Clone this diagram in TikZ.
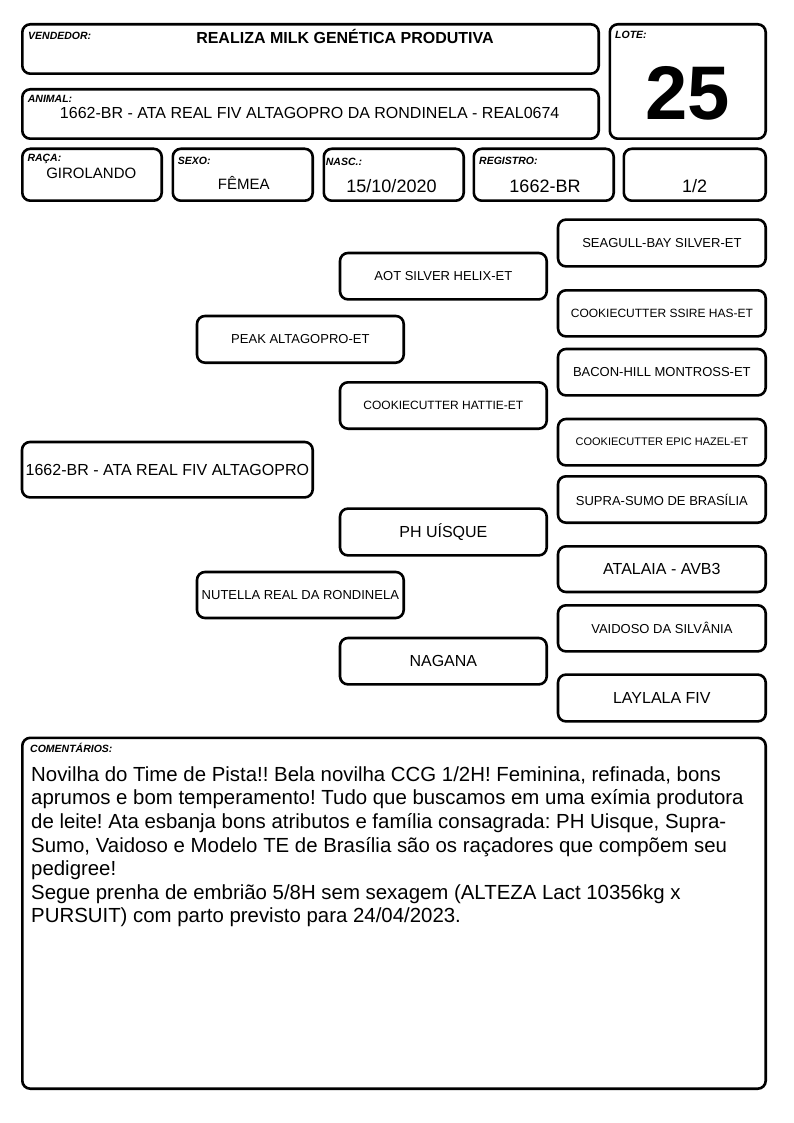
\documentclass[tikz,border=0pt]{standalone}
\usepackage{fontspec}
\setmainfont{Liberation Sans}
\frenchspacing
\newcommand\fsz[1]{\fontsize{#1}{#1}\selectfont}
\tikzset{
  x=1pt, y=-1pt,
  frame/.style={draw, line width=2.6pt, rounded corners=8pt, inner sep=0pt},
  lbl/.style={font=\bfseries\itshape\fsz{10.5}, anchor=base west, inner sep=0pt},
  val/.style={anchor=base, inner sep=0pt},
}
% name, x1, y1, x2, y2 (outer edges)
\newcommand\cardbox[5]{%
  \node[frame, minimum width={#4-#2-2.6}, minimum height={#5-#3-2.6}] (#1) at ({(#2+#4)/2},{(#3+#5)/2}) {};}
% name, x1, y1, x2, y2, size, text
\newcommand\pedbox[7]{%
  \node[frame, align=center, font=\fsz{#6}, minimum width={#4-#2-2.6}, minimum height={#5-#3-2.6}] (#1) at ({(#2+#4)/2},{(#3+#5)/2}) {#7};}
\begin{document}
\begin{tikzpicture}
\useasboundingbox (0,0) rectangle (794,1123);
% header
\cardbox{vend}{21}{23}{600}{75}
\cardbox{animal}{21}{88}{600}{140}
\cardbox{lote}{608.5}{23}{767}{140}
\cardbox{raca}{21}{147.5}{163}{202}
\cardbox{sexo}{171.5}{147.5}{314}{202}
\cardbox{nasc}{322.5}{147.5}{465}{202}
\cardbox{reg}{472.5}{147.5}{615}{202}
\cardbox{half}{622.5}{147.5}{767}{202}
\cardbox{coment}{21}{736.5}{767}{1090}

\node[lbl] (lvend) at (28,39.3) {VENDEDOR:};
\node[val, font=\bfseries\fsz{16}] (tvend) at (345,43.3) {REALIZA MILK GENÉTICA PRODUTIVA};
\node[lbl] (llote) at (615,39) {LOTE:};
\node[val, font=\bfseries\fsz{76}] (tlote) at (687.5,120) {25};
\node[lbl] (lanimal) at (27.7,102.7) {ANIMAL:};
\node[val, font=\fsz{16}] (tanimal) at (309.7,119) {1662-BR - ATA REAL FIV ALTAGOPRO DA RONDINELA - REAL0674};
\node[lbl] (lraca) at (27.3,162) {RAÇA:};
\node[val, font=\fsz{15}] (traca) at (91.3,178.3) {GIROLANDO};
\node[lbl] (lsexo) at (177.7,165) {SEXO:};
\node[val, font=\fsz{15}] (tsexo) at (243.8,189.3) {FÊMEA};
\node[lbl] (lnasc) at (325.7,165.7) {NASC.:};
\node[val, font=\fsz{18}] (tnasc) at (391.5,192.7) {15/10/2020};
\node[lbl] (lreg) at (479,165) {REGISTRO:};
\node[val, font=\fsz{18}] (treg) at (545,193) {1662-BR};
\node[val, font=\fsz{18}] (thalf) at (694.5,193) {1/2};

% pedigree
\pedbox{p0}{20.7}{440.7}{314}{498.7}{16}{1662-BR - ATA REAL FIV ALTAGOPRO}
\pedbox{p1}{195.7}{314.7}{405}{364}{13}{PEAK ALTAGOPRO-ET}
\pedbox{p2}{195.7}{570.7}{405}{619.3}{13}{NUTELLA REAL DA RONDINELA}
\pedbox{p3}{338.7}{251.7}{548}{300.7}{13}{AOT SILVER HELIX-ET}
\pedbox{p4}{338.7}{381}{548}{430}{12}{COOKIECUTTER HATTIE-ET}
\pedbox{p5}{338.7}{507.3}{548}{556.7}{16}{PH UÍSQUE}
\pedbox{p6}{338.7}{636.7}{548}{685.7}{16}{NAGANA}
\pedbox{p7}{556.7}{218.3}{767}{267.7}{13}{SEAGULL-BAY SILVER-ET}
\pedbox{p8}{556.7}{289}{767}{337.7}{12}{COOKIECUTTER SSIRE HAS-ET}
\pedbox{p9}{556.7}{347.7}{767}{396.7}{13}{BACON-HILL MONTROSS-ET}
\pedbox{p10}{556.7}{417.7}{767}{466.7}{11}{COOKIECUTTER EPIC HAZEL-ET}
\pedbox{p11}{556.7}{475}{767}{524}{13}{SUPRA-SUMO DE BRASÍLIA}
\pedbox{p12}{556.7}{545}{767}{593.3}{16}{ATALAIA - AVB3}
\pedbox{p13}{556.7}{604}{767}{652.7}{13}{VAIDOSO DA SILVÂNIA}
\pedbox{p14}{556.7}{673.3}{767}{722.7}{16}{LAYLALA FIV}

% comments
\node[lbl] (lcom) at (30,752.7) {COMENTÁRIOS:};
\node[anchor=north west, inner sep=0pt, align=left, font=\fontsize{20.4}{23.6}\selectfont] (tcom) at (31,766.4) {Novilha do Time de Pista!! Bela novilha CCG 1/2H! Feminina, refinada, bons\\
aprumos e bom temperamento! Tudo que buscamos em uma exímia produtora\\
de leite! Ata esbanja bons atributos e família consagrada: PH Uisque, Supra-\\
Sumo, Vaidoso e Modelo TE de Brasília são os raçadores que compõem seu\\
pedigree!\\
Segue prenha de embrião 5/8H sem sexagem (ALTEZA Lact 10356kg x\\
PURSUIT) com parto previsto para 24/04/2023.};
\end{tikzpicture}
\end{document}
